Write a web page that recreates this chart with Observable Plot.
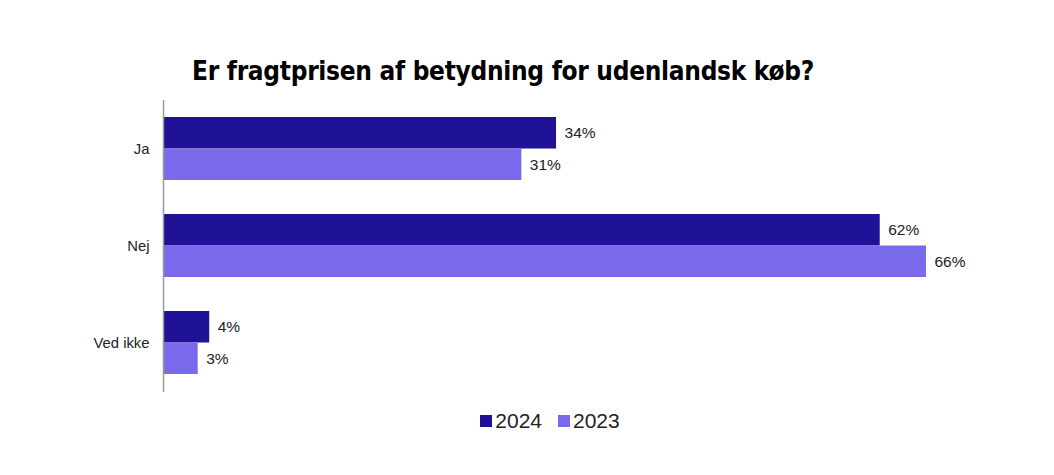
<!DOCTYPE html>
<html>
<head>
<meta charset="utf-8">
<script src="https://cdn.jsdelivr.net/npm/d3@7"></script>
<script src="https://cdn.jsdelivr.net/npm/@observablehq/plot@0.6"></script>
<style>
  body { margin: 0; background: #fff; font-family: "Liberation Sans", Arial, sans-serif; }
  #wrap { width: 1054px; position: relative; }
  #title { height: 100px; position: relative; }
  #title span { position: absolute; left: 0; width: 1006px; text-align: center; top: 56px;
    font-family: "DejaVu Sans Condensed", "DejaVu Sans", sans-serif; font-stretch: condensed; font-weight: 900;
    font-size: 26px; color: #000; letter-spacing: -0.3px; }
  #legend { display: flex; justify-content: center; align-items: center; gap: 16px; margin-top: 9px; padding-left: 46px;
    font-size: 21px; color: #222; }
  #legend .item { display: flex; align-items: center; gap: 3px; }
  #legend .sw { width: 12px; height: 12px; display: inline-block; }
</style>
</head>
<body>
<div id="wrap">
  <div id="title"><span>Er fragtprisen af betydning for udenlandsk køb?</span></div>
  <div id="chart"></div>
  <div id="legend"></div>
</div>
<script>
const categories = ["Ja", "Nej", "Ved ikke"];
const years = ["2024", "2023"];
const values2024 = [34, 62, 4];
const values2023 = [31, 66, 3];
const colors = ["#1f1296", "#786aeb"];

const d24 = categories.map((c, i) => ({cat: c, v: values2024[i], label: values2024[i] + "%"}));
const d23 = categories.map((c, i) => ({cat: c, v: values2023[i], label: values2023[i] + "%"}));

const half = 31.5;
const chart = Plot.plot({
  width: 1054,
  height: 300,
  marginTop: 0,
  marginBottom: 8,
  marginLeft: 163,
  marginRight: 24,
  style: {fontFamily: "'Liberation Sans', Arial, sans-serif", color: "#222", background: "#fff"},
  x: {domain: [0, 75], axis: null},
  y: {domain: categories, paddingInner: 0.35, paddingOuter: 0.18, label: null, tickSize: 0, tickPadding: 14},
  marks: [
    Plot.barX(d24, {x: "v", y: "cat", fill: colors[0], insetBottom: half}),
    Plot.barX(d23, {x: "v", y: "cat", fill: colors[1], insetTop: half}),
    Plot.text(d24, {x: "v", y: "cat", text: "label", dy: -half / 2, dx: 8, textAnchor: "start", fontSize: 15.5, fill: "#222"}),
    Plot.text(d23, {x: "v", y: "cat", text: "label", dy: half / 2, dx: 8, textAnchor: "start", fontSize: 15.5, fill: "#222"}),
    Plot.ruleX([0], {stroke: "#999", strokeWidth: 1.5}),
    Plot.axisY({tickSize: 0, tickPadding: 14, fontSize: 14.8, label: null})
  ]
});
document.getElementById("chart").appendChild(chart);

const legend = document.getElementById("legend");
years.forEach((y, i) => {
  const it = document.createElement("div");
  it.className = "item";
  it.innerHTML = `<span class="sw" style="background:${colors[i]}"></span><span>${y}</span>`;
  legend.appendChild(it);
});
</script>
</body>
</html>
